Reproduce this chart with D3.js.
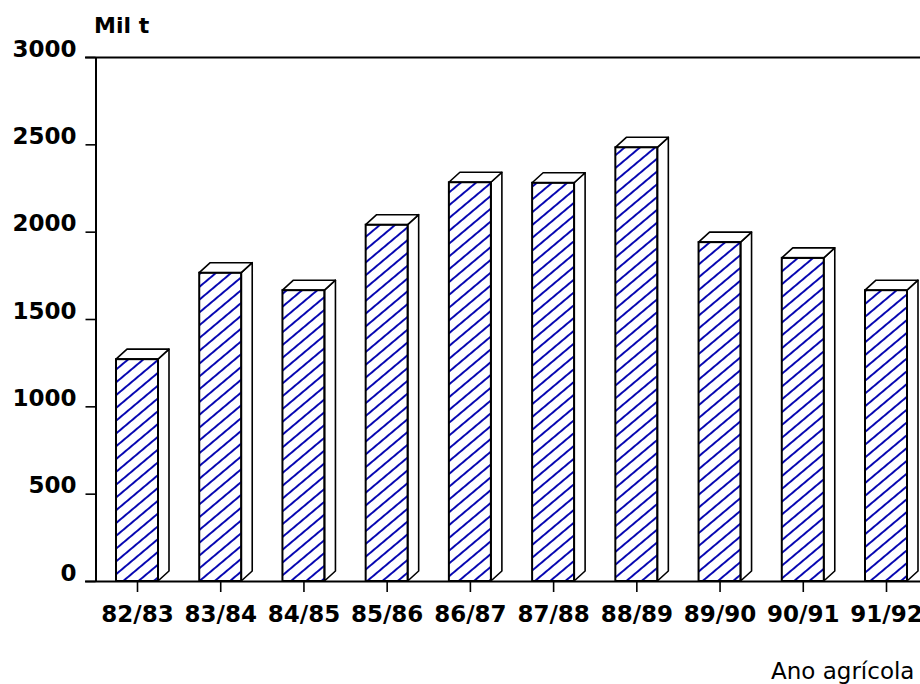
<!DOCTYPE html>
<html>
<head>
<meta charset="utf-8">
<script src="https://cdn.jsdelivr.net/npm/d3@7"></script>
<style>
  html, body { margin: 0; padding: 0; background: #fff; overflow: hidden; }
  svg { display: block; }
</style>
</head>
<body>
<svg id="chart" width="920" height="684"></svg>
<script>
// Produção por ano agrícola (mil toneladas)
const categories = ["82/83", "83/84", "84/85", "85/86", "86/87", "87/88", "88/89", "89/90", "90/91", "91/92"];
const values = [1270, 1765, 1665, 2040, 2283, 2280, 2483, 1940, 1850, 1665];
const yTicks = [0, 500, 1000, 1500, 2000, 2500, 3000];
const yUnit = "Mil t";
const xTitle = "Ano agrícola";

const svg = d3.select("#chart");
const W = 920;

const axisX = 95.5, yTop = 57, yBase = 581;
const y = d3.scaleLinear().domain([0, 3000]).range([yBase, yTop]);
const x = d3.scalePoint().domain(categories).range([137, 886]);

const barW = 42;   // front face width
const dx = 11, dy = 10; // 3D depth offset

// diagonal blue hatching
const defs = svg.append("defs");
defs.append("pattern")
  .attr("id", "hatch")
  .attr("patternUnits", "userSpaceOnUse")
  .attr("width", 9.8).attr("height", 9.8)
  .attr("patternTransform", "rotate(50)")
  .append("line")
  .attr("x1", 4.9).attr("y1", -1).attr("x2", 4.9).attr("y2", 11)
  .attr("stroke", "#0000b0").attr("stroke-width", 1.9);

// bars
const bars = svg.append("g").attr("class", "bars");
const bar = bars.selectAll("g").data(categories.map((c, i) => ({ c, v: values[i] })))
  .join("g");

// side face
bar.append("path")
  .attr("fill", "#fff").attr("stroke", "#000").attr("stroke-width", 1.6)
  .attr("stroke-linejoin", "round")
  .attr("d", d => {
    const r = x(d.c) + barW / 2, t = y(d.v);
    return `M${r},${t}L${r + dx},${t - dy}L${r + dx},${yBase - dy}L${r},${yBase}Z`;
  });
// top face
bar.append("path")
  .attr("fill", "#fff").attr("stroke", "#000").attr("stroke-width", 1.6)
  .attr("stroke-linejoin", "round")
  .attr("d", d => {
    const l = x(d.c) - barW / 2, r = x(d.c) + barW / 2, t = y(d.v);
    return `M${l},${t}L${l + dx},${t - dy}L${r + dx},${t - dy}L${r},${t}Z`;
  });
// front face
bar.append("rect")
  .attr("x", d => x(d.c) - barW / 2)
  .attr("y", d => y(d.v))
  .attr("width", barW)
  .attr("height", d => yBase - y(d.v))
  .attr("fill", "url(#hatch)")
  .attr("stroke", "#000").attr("stroke-width", 2);

// frame lines
svg.append("line")
  .attr("x1", 85).attr("x2", W).attr("y1", yTop + 0.5).attr("y2", yTop + 0.5)
  .attr("stroke", "#000").attr("stroke-width", 2);
svg.append("line")
  .attr("x1", 85).attr("x2", W).attr("y1", yBase + 0.5).attr("y2", yBase + 0.5)
  .attr("stroke", "#000").attr("stroke-width", 2);

// y axis
const yAxis = svg.append("g")
  .attr("transform", `translate(${axisX},0)`)
  .call(d3.axisLeft(y).tickValues(yTicks).tickSize(10).tickSizeOuter(0).tickFormat(d3.format("d")));
yAxis.select(".domain").attr("stroke", "#000").attr("stroke-width", 2);
yAxis.selectAll(".tick line").attr("stroke", "#000").attr("stroke-width", 1.6);
yAxis.selectAll(".tick text")
  .attr("x", -19).attr("dy", 0).attr("y", -1)
  .attr("text-anchor", "end")
  .attr("fill", "#000")
  .style("font-family", "'DejaVu Sans', sans-serif")
  .style("font-weight", "bold")
  .style("font-size", "23px");

// x axis
const xAxis = svg.append("g")
  .attr("transform", `translate(0,${yBase})`)
  .call(d3.axisBottom(x).tickSize(11).tickSizeOuter(0));
xAxis.select(".domain").remove();
xAxis.selectAll(".tick line").attr("stroke", "#000").attr("stroke-width", 1.6);
xAxis.selectAll(".tick text")
  .attr("y", 41).attr("dy", 0)
  .attr("fill", "#000")
  .style("font-family", "'DejaVu Sans', sans-serif")
  .style("font-weight", "bold")
  .style("font-size", "23px");

// titles
svg.append("text")
  .attr("x", 94).attr("y", 33)
  .style("font-family", "'DejaVu Sans', sans-serif")
  .style("font-weight", "bold")
  .style("font-size", "22px")
  .text(yUnit);

svg.append("text")
  .attr("x", 771).attr("y", 679)
  .style("font-family", "'DejaVu Sans', sans-serif")
  .style("font-size", "23px")
  .text(xTitle);
</script>
</body>
</html>
